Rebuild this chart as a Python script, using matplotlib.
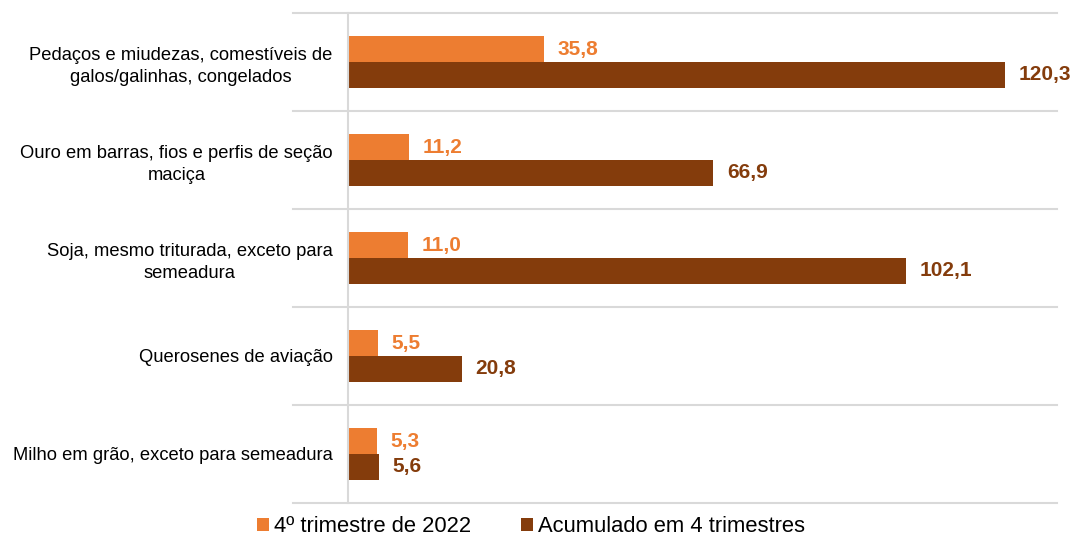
import matplotlib.pyplot as plt
import numpy as np

plt.rcParams['font.family'] = ['Liberation Sans', 'DejaVu Sans']

categorias = ['Pedaços e miudezas, comestíveis de\ngalos/galinhas, congelados',
              'Ouro em barras, fios e perfis de seção\nmaciça',
              'Soja, mesmo triturada, exceto para\nsemeadura',
              'Querosenes de aviação',
              'Milho em grão, exceto para semeadura']
trimestre = [35.8, 11.2, 11.0, 5.5, 5.3]
acumulado = [120.3, 66.9, 102.1, 20.8, 5.6]
nomes = ['4º trimestre de 2022', 'Acumulado em 4 trimestres']

cor_lar = '#ED7D31'
cor_mar = '#843C0C'
cinza = '#D9D9D9'

fig = plt.figure(figsize=(10.77, 5.38), dpi=100)
ax = fig.add_axes([348/1077, 1 - 503/538, 709/1077, 490/538])

y = np.arange(len(categorias))
h = 0.265
b1 = ax.barh(y - h/2, trimestre, height=h, color=cor_lar, label=nomes[0])
b2 = ax.barh(y + h/2, acumulado, height=h, color=cor_mar, label=nomes[1])

for v, yy in zip(trimestre, y - h/2):
    ax.text(v + 2.5, yy, f'{v:.1f}'.replace('.', ','), va='center', ha='left',
            color=cor_lar, fontsize=15, fontweight='bold')
for v, yy in zip(acumulado, y + h/2):
    ax.text(v + 2.5, yy, f'{v:.1f}'.replace('.', ','), va='center', ha='left',
            color=cor_mar, fontsize=15, fontweight='bold')

ax.set_xlim(0, 129.8)
ax.set_ylim(len(categorias) - 0.5, -0.5)
ax.set_yticks(y)
ax.set_yticklabels(categorias, fontsize=13.2, multialignment='center', linespacing=1.35)
ax.tick_params(axis='y', length=0, pad=11)
ax.set_xticks([])

for s in ['top', 'right', 'bottom']:
    ax.spines[s].set_visible(False)
ax.spines['left'].set_color(cinza)
ax.spines['left'].set_linewidth(1.5)

# linhas de grade entre categorias, estendidas um pouco para a esquerda
trans = ax.get_yaxis_transform()
for g in np.arange(len(categorias) + 1) - 0.5:
    ax.plot([-55/709, 1], [g, g], transform=trans, color=cinza, lw=1.5,
            clip_on=False, zorder=0)

fig.legend(handles=[b1, b2], loc='center', bbox_to_anchor=(531/1077, 1 - 527/538),
           ncol=2, frameon=False, fontsize=15.8, handlelength=0.55, handleheight=0.55,
           handletextpad=0.25, columnspacing=2.25)

fig.savefig('out.png', dpi=100)
